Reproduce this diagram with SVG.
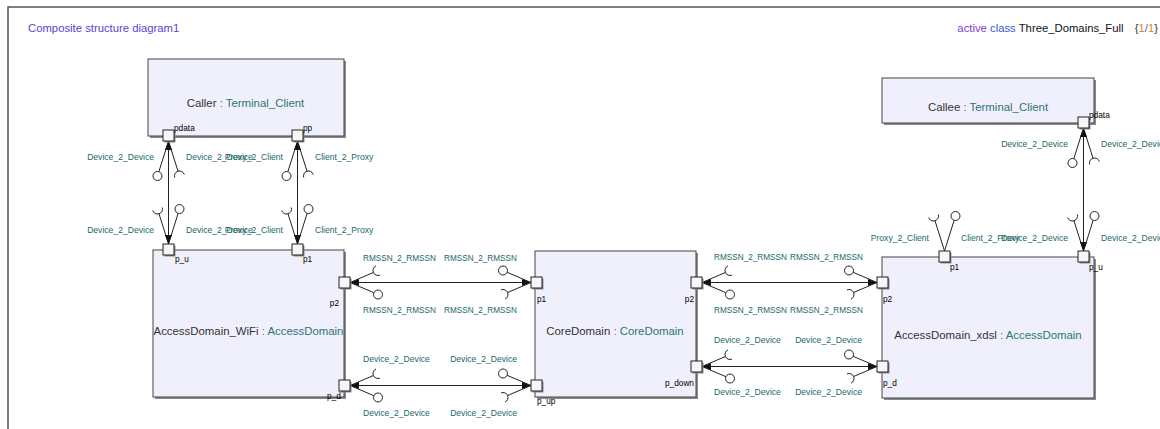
<svg xmlns="http://www.w3.org/2000/svg" xmlns:xlink="http://www.w3.org/1999/xlink" width="1160" height="429" viewBox="0 0 1160 429">
<style>
.frame{stroke:#555;stroke-width:1.5;fill:none}
.box{fill:#f0f0fc;stroke:#444;stroke-width:1}
.sh{fill:#8a8a8a}
.port{fill:#f6f6f9;stroke:#222;stroke-width:1}
.con{stroke:#222;stroke-width:1;fill:none}
.t{font-family:"Liberation Sans",Arial,sans-serif}
.lbl{font-family:"Liberation Sans",Arial,sans-serif;font-size:8.6px;fill:#1b6868}
.pl{font-family:"Liberation Sans",Arial,sans-serif;font-size:8.3px;fill:#000}
.nm{font-family:"Liberation Sans",Arial,sans-serif;font-size:11.4px;fill:#333;text-anchor:middle}
.ty{fill:#2a7676}
.co{fill:#6a4ad0}
</style>
<defs>
<g id="gH">
<path class="con" d="M0,0 L23.4,-10 M30,-7.4 A5,5 0 0 1 26,-16.6 M0,0 L23.9,10.2"/>
<circle cx="28" cy="12" r="4.5" fill="#fff" stroke="#222"/>
</g>
<g id="eH"><use xlink:href="#gH"/><polygon points="0,0 9,-3.5 9,3.5" fill="#111"/></g>
<g id="gV">
<path class="con" d="M0,0 L30.2,-9.5 M36.5,-6.2 A5,5 0 0 1 33.5,-15.8 M0,0 L30.7,9.65"/>
<circle cx="35" cy="11" r="4.5" fill="#fff" stroke="#222"/>
</g>
<g id="eV"><use xlink:href="#gV"/><polygon points="0,0 9,-3.5 9,3.5" fill="#111"/></g>
</defs>
<rect width="1160" height="429" fill="#fff"/>
<path class="frame" d="M8,429 V7 H1160"/>
<text class="t" x="28" y="32" font-size="11.3" fill="#5a3fd6">Composite structure diagram1</text>
<text class="t" x="1158" y="32" font-size="11.3" text-anchor="end" fill="#111"><tspan fill="#8040d0">active</tspan> <tspan fill="#3a55d8">class</tspan> Three_Domains_Full <tspan dx="8" fill="#333">{</tspan><tspan fill="#d09020">1</tspan><tspan fill="#8040d0">/</tspan><tspan fill="#d09020">1</tspan><tspan fill="#333">}</tspan></text>

<g id="connectors">
<path class="con" d="M168.5,141 V244 M297.5,141 V244 M1083.5,128 V251 M350,282.5 H531 M350,385.5 H531 M702,282.5 H877 M702,366.5 H877"/>
<use xlink:href="#eV" transform="translate(168.5,141) rotate(90)"/>
<use xlink:href="#eV" transform="translate(168.5,244) rotate(-90)"/>
<use xlink:href="#eV" transform="translate(297.5,141) rotate(90)"/>
<use xlink:href="#eV" transform="translate(297.5,244) rotate(-90)"/>
<use xlink:href="#eV" transform="translate(1083.5,128) rotate(90)"/>
<use xlink:href="#eV" transform="translate(1083.5,251) rotate(-90)"/>
<use xlink:href="#gV" transform="translate(944.5,251) rotate(-90)"/>
<use xlink:href="#eH" transform="translate(350,282.5)"/>
<use xlink:href="#eH" transform="translate(531,282.5) rotate(180)"/>
<use xlink:href="#eH" transform="translate(350,385.5)"/>
<use xlink:href="#eH" transform="translate(531,385.5) rotate(180)"/>
<use xlink:href="#eH" transform="translate(702,282.5)"/>
<use xlink:href="#eH" transform="translate(877,282.5) rotate(180)"/>
<use xlink:href="#eH" transform="translate(702,366.5)"/>
<use xlink:href="#eH" transform="translate(877,366.5) rotate(180)"/>
<g class="lbl">
<text x="154" y="160" text-anchor="end">Device_2_Device</text>
<text x="154" y="233" text-anchor="end">Device_2_Device</text>
<text x="186" y="160">Device_2_Device</text>
<text x="186" y="233">Device_2_Device</text>
<text x="283" y="160" text-anchor="end">Proxy_2_Client</text>
<text x="283" y="233" text-anchor="end">Proxy_2_Client</text>
<text x="315" y="160">Client_2_Proxy</text>
<text x="315" y="233">Client_2_Proxy</text>
<text x="1068" y="147" text-anchor="end">Device_2_Device</text>
<text x="1068" y="241" text-anchor="end">Device_2_Device</text>
<text x="1101" y="147">Device_2_Device</text>
<text x="1101" y="241">Device_2_Device</text>
<text x="929" y="241" text-anchor="end">Proxy_2_Client</text>
<text x="961" y="241">Client_2_Proxy</text>
<text x="363" y="261" textLength="73" lengthAdjust="spacingAndGlyphs">RMSSN_2_RMSSN</text>
<text x="444" y="261" textLength="73" lengthAdjust="spacingAndGlyphs">RMSSN_2_RMSSN</text>
<text x="363" y="313" textLength="73" lengthAdjust="spacingAndGlyphs">RMSSN_2_RMSSN</text>
<text x="444" y="313" textLength="73" lengthAdjust="spacingAndGlyphs">RMSSN_2_RMSSN</text>
<text x="363" y="362">Device_2_Device</text>
<text x="517" y="362" text-anchor="end">Device_2_Device</text>
<text x="363" y="416">Device_2_Device</text>
<text x="517" y="416" text-anchor="end">Device_2_Device</text>
<text x="714" y="260" textLength="73" lengthAdjust="spacingAndGlyphs">RMSSN_2_RMSSN</text>
<text x="790" y="260" textLength="73" lengthAdjust="spacingAndGlyphs">RMSSN_2_RMSSN</text>
<text x="714" y="313" textLength="73" lengthAdjust="spacingAndGlyphs">RMSSN_2_RMSSN</text>
<text x="790" y="313" textLength="73" lengthAdjust="spacingAndGlyphs">RMSSN_2_RMSSN</text>
<text x="714" y="343">Device_2_Device</text>
<text x="862" y="343" text-anchor="end">Device_2_Device</text>
<text x="714" y="395">Device_2_Device</text>
<text x="862" y="395" text-anchor="end">Device_2_Device</text>
</g>
</g>

<g id="Caller">
<rect class="sh" x="150" y="61" width="196" height="77"/>
<rect class="box" x="148" y="59" width="196" height="77"/>
<text class="nm" x="245.5" y="107">Caller<tspan class="co"> : </tspan><tspan class="ty">Terminal_Client</tspan></text>
<rect class="sh" x="164.5" y="131.5" width="11" height="11"/><rect class="port" x="163" y="130" width="11" height="11"/>
<text class="pl" x="174" y="131">pdata</text>
<rect class="sh" x="293.5" y="131.5" width="11" height="11"/><rect class="port" x="292" y="130" width="11" height="11"/>
<text class="pl" x="303" y="131">pp</text>
</g>

<g id="Callee">
<rect class="sh" x="884" y="80" width="212" height="45"/>
<rect class="box" x="882" y="78" width="212" height="45"/>
<text class="nm" x="988" y="111">Callee<tspan class="co"> : </tspan><tspan class="ty">Terminal_Client</tspan></text>
<rect class="sh" x="1079.5" y="118.5" width="11" height="11"/><rect class="port" x="1078" y="117" width="11" height="11"/>
<text class="pl" x="1089" y="118">pdata</text>
</g>

<g id="AccessDomain_WiFi">
<rect class="sh" x="155" y="252" width="191" height="147"/>
<rect class="box" x="153" y="250" width="191" height="147"/>
<text class="nm" x="248.5" y="335">AccessDomain_WiFi<tspan class="co"> : </tspan><tspan class="ty">AccessDomain</tspan></text>
<rect class="sh" x="164.5" y="245.5" width="11" height="11"/><rect class="port" x="163" y="244" width="11" height="11"/>
<text class="pl" x="175" y="262">p_u</text>
<rect class="sh" x="293.5" y="245.5" width="11" height="11"/><rect class="port" x="292" y="244" width="11" height="11"/>
<text class="pl" x="303" y="262">p1</text>
<rect class="sh" x="340.5" y="278.5" width="11" height="11"/><rect class="port" x="339" y="277" width="11" height="11"/>
<text class="pl" x="339" y="306" text-anchor="end">p2</text>
<rect class="sh" x="340.5" y="381.5" width="11" height="11"/><rect class="port" x="339" y="380" width="11" height="11"/>
<text class="pl" x="327" y="399">p_d</text>
</g>

<g id="CoreDomain">
<rect class="sh" x="537" y="253" width="161" height="146"/>
<rect class="box" x="535" y="251" width="161" height="146"/>
<text class="nm" x="615" y="335">CoreDomain<tspan class="co"> : </tspan><tspan class="ty">CoreDomain</tspan></text>
<rect class="sh" x="532.5" y="278.5" width="11" height="11"/><rect class="port" x="531" y="277" width="11" height="11"/>
<text class="pl" x="537" y="302">p1</text>
<rect class="sh" x="532.5" y="381.5" width="11" height="11"/><rect class="port" x="531" y="380" width="11" height="11"/>
<text class="pl" x="537" y="404">p_up</text>
<rect class="sh" x="692.5" y="278.5" width="11" height="11"/><rect class="port" x="691" y="277" width="11" height="11"/>
<text class="pl" x="694" y="302" text-anchor="end">p2</text>
<rect class="sh" x="692.5" y="362.5" width="11" height="11"/><rect class="port" x="691" y="361" width="11" height="11"/>
<text class="pl" x="694" y="386" text-anchor="end">p_down</text>
</g>

<g id="AccessDomain_xdsl">
<rect class="sh" x="884" y="259" width="212" height="141"/>
<rect class="box" x="882" y="257" width="212" height="141"/>
<text class="nm" x="988" y="339">AccessDomain_xdsl<tspan class="co"> : </tspan><tspan class="ty">AccessDomain</tspan></text>
<rect class="sh" x="878.5" y="278.5" width="11" height="11"/><rect class="port" x="877" y="277" width="11" height="11"/>
<text class="pl" x="883" y="302">p2</text>
<rect class="sh" x="878.5" y="362.5" width="11" height="11"/><rect class="port" x="877" y="361" width="11" height="11"/>
<text class="pl" x="883" y="386">p_d</text>
<rect class="sh" x="940.5" y="252.5" width="11" height="11"/><rect class="port" x="939" y="251" width="11" height="11"/>
<text class="pl" x="950" y="270">p1</text>
<rect class="sh" x="1079.5" y="252.5" width="11" height="11"/><rect class="port" x="1078" y="251" width="11" height="11"/>
<text class="pl" x="1089" y="270">p_u</text>
</g>
</svg>
